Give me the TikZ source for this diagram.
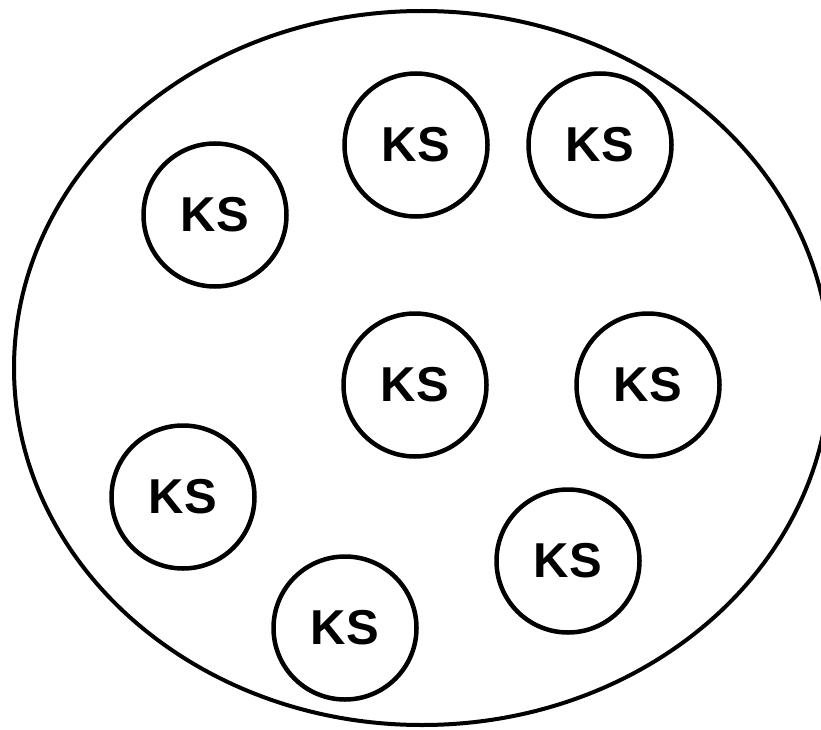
\documentclass[tikz,border=0pt]{standalone}
\usepackage{fontspec}
\setmainfont{Liberation Sans}
\usepackage{tikz}
\usetikzlibrary{shapes.geometric}

\begin{document}
\begin{tikzpicture}[x=1pt, y=-1pt,
    ks/.style={circle, draw, line width=4.5pt, minimum size=143pt, inner sep=0pt,
      font=\fontsize{49}{49}\selectfont\bfseries}]
        \useasboundingbox (0,0) rectangle (821,730);

        \path
        (422,368) coordinate (centre)
        (416,145) coordinate (1)
        (600,145) coordinate (2)
        (215,215) coordinate (3)
        (415,385) coordinate (4)
        (648,385) coordinate (5)
        (183,497) coordinate (6)
        (568,561) coordinate (7)
        (345,628) coordinate (8)
        ;

        % outer region
        \draw[line width=4pt] (centre) ellipse [x radius=408, y radius=357];

        \foreach \i in {1,...,8}
          \node[ks] (ks\i) at (\i) {KS};
\end{tikzpicture}
\end{document}
